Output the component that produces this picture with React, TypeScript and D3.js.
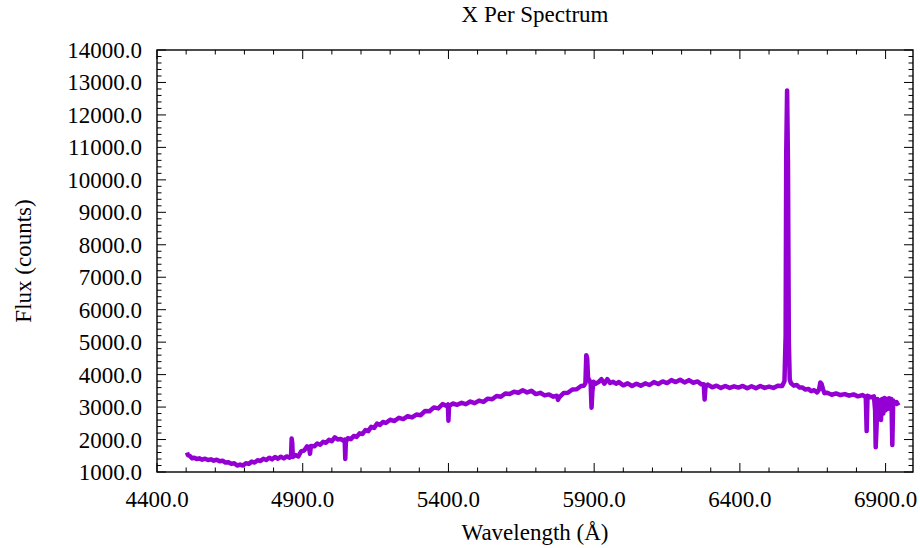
import React from "react";
import * as d3 from "d3";

// wavelength (Å) / flux (counts) pairs
const wavelength = [
  4503, 4506, 4512, 4520, 4528, 4536, 4545, 4555, 4565, 4575, 4585, 4595, 4605, 4615, 4625, 4635, 4645, 4655,
  4665, 4675, 4685, 4695, 4705, 4715, 4725, 4735, 4745, 4755, 4765, 4775, 4785, 4795, 4805, 4815, 4825, 4835,
  4845, 4855, 4860, 4862, 4864, 4866, 4875, 4885, 4895, 4905, 4915, 4922, 4925, 4928, 4940, 4950, 4960, 4970,
  4980, 4990, 5000, 5010, 5020, 5030, 5040, 5044, 5046, 5048, 5055, 5065, 5075, 5085, 5095, 5105, 5115, 5125,
  5135, 5145, 5155, 5165, 5175, 5185, 5200, 5215, 5230, 5245, 5260, 5275, 5290, 5305, 5320, 5335, 5350, 5365,
  5380, 5392, 5398, 5400, 5402, 5415, 5430, 5445, 5460, 5475, 5490, 5505, 5520, 5535, 5550, 5565, 5580, 5595,
  5610, 5625, 5640, 5655, 5670, 5685, 5700, 5715, 5730, 5745, 5760, 5772, 5776, 5780, 5795, 5810, 5825, 5840,
  5855, 5865, 5870, 5873, 5876, 5879, 5884, 5888, 5891, 5894, 5898, 5905, 5915, 5925, 5935, 5945, 5955, 5965,
  5975, 5985, 6000, 6015, 6030, 6045, 6060, 6075, 6090, 6105, 6120, 6135, 6150, 6165, 6180, 6195, 6210, 6225,
  6240, 6255, 6268, 6276, 6279, 6282, 6290, 6305, 6320, 6335, 6350, 6365, 6380, 6395, 6410, 6425, 6440, 6455,
  6470, 6485, 6500, 6515, 6530, 6545, 6553, 6557, 6559, 6562, 6565, 6568, 6571, 6575, 6585, 6595, 6605, 6615,
  6625, 6635, 6645, 6655, 6665, 6672, 6676, 6680, 6685, 6690, 6700, 6715, 6730, 6745, 6760, 6775, 6790, 6805,
  6820, 6832, 6835, 6838, 6850, 6860, 6864, 6866, 6869, 6872, 6876, 6880, 6884, 6888, 6892, 6896, 6900, 6904,
  6908, 6912, 6916, 6920, 6923, 6926, 6932, 6938, 6944,
];

const flux = [
  1600, 1520, 1500, 1420, 1440, 1400, 1420, 1380, 1410, 1370, 1390, 1350, 1380, 1330, 1350, 1290, 1300, 1250,
  1270, 1200, 1230, 1200, 1270, 1250, 1320, 1290, 1360, 1340, 1410, 1370, 1440, 1390, 1460, 1410, 1470, 1420,
  1480, 1440, 1500, 2030, 1900, 1460, 1520, 1480, 1640, 1660, 1790, 1740, 1560, 1800, 1790, 1880, 1840, 1930,
  1900, 1990, 1950, 2070, 2000, 2020, 1960, 2000, 1400, 1930, 2040, 2010, 2110, 2080, 2190, 2170, 2290, 2260,
  2390, 2360, 2490, 2450, 2540, 2510, 2610, 2570, 2670, 2630, 2720, 2680, 2770, 2750, 2880, 2870, 2990, 2960,
  3090, 3040, 3080, 2580, 3030, 3110, 3070, 3130, 3090, 3170, 3120, 3200, 3160, 3260, 3240, 3340, 3320, 3420,
  3400, 3470, 3440, 3520, 3450, 3500, 3400, 3440, 3360, 3390, 3320, 3350, 3220, 3300, 3430, 3440, 3540, 3550,
  3650, 3660, 3740, 4600, 4500, 3900, 3820, 3720, 2980, 3500, 3780, 3720, 3770, 3860, 3720, 3860, 3740, 3780,
  3720, 3770, 3670, 3730, 3650, 3720, 3660, 3730, 3680, 3770, 3710, 3790, 3740, 3830, 3770, 3840, 3760, 3830,
  3750, 3790, 3700, 3700, 3230, 3620, 3690, 3610, 3660, 3590, 3650, 3590, 3640, 3600, 3650, 3580, 3640, 3580,
  3650, 3590, 3630, 3590, 3660, 3650, 3800, 5200, 10800, 12750, 10500, 5000, 3850, 3740, 3660, 3680, 3600, 3600,
  3540, 3560, 3490, 3520, 3450, 3550, 3760, 3720, 3560, 3430, 3440, 3380, 3420, 3370, 3400, 3350, 3390, 3330,
  3370, 3310, 2260, 3350, 3300, 3330, 2900, 1760, 2400, 3250, 2700, 3200, 2600, 3250, 2800, 3280, 2900, 3250,
  2950, 3270, 3000, 3250, 1830, 3200, 3100, 3150, 3050,
];

const xTicks = [4400, 4900, 5400, 5900, 6400, 6900];
const yTicks = [1000, 2000, 3000, 4000, 5000, 6000, 7000, 8000, 9000, 10000, 11000, 12000, 13000, 14000];

const W = 920;
const H = 548;
const left = 157;
const right = 913;
const top = 50;
const bottom = 472;
const font = "'Liberation Serif', 'Times New Roman', serif";

export default function App() {
  const x = d3.scaleLinear().domain([4400, 6994]).range([left, right]);
  const y = d3.scaleLinear().domain([1000, 14000]).range([bottom, top]);

  const points = wavelength.map((w, i) => [w, flux[i]] as [number, number]);
  const line = d3
    .line<[number, number]>()
    .x((d) => x(d[0]))
    .y((d) => y(d[1]));

  // minor ticks every 100 Å and every 200 counts
  const xMinor = d3.range(4400, 7000, 100).filter((v) => !xTicks.includes(v));
  const yMinor = d3.range(1000, 14001, 200).filter((v) => !yTicks.includes(v));

  const major = 9;
  const minor = 4.5;

  return (
    <svg
      width={W}
      height={H}
      style={{ position: "absolute", left: 0, top: 0, background: "#fff" }}
      fontFamily={font}
    >
      <text x={(left + right) / 2} y={22} textAnchor="middle" fontSize={23}>
        X Per Spectrum
      </text>

      <path d={line(points) || ""} fill="none" stroke="#9400d3" strokeWidth={4.5} strokeLinejoin="round" />

      {/* ticks on all four sides */}
      <g stroke="#000" strokeWidth={1}>
        {xTicks.map((v) => (
          <g key={"xt" + v}>
            <line x1={x(v)} x2={x(v)} y1={bottom} y2={bottom - major} />
            <line x1={x(v)} x2={x(v)} y1={top} y2={top + major} />
          </g>
        ))}
        {xMinor.map((v) => (
          <g key={"xm" + v}>
            <line x1={x(v)} x2={x(v)} y1={bottom} y2={bottom - minor} />
            <line x1={x(v)} x2={x(v)} y1={top} y2={top + minor} />
          </g>
        ))}
        {yTicks.map((v) => (
          <g key={"yt" + v}>
            <line x1={left} x2={left + major} y1={y(v)} y2={y(v)} />
            <line x1={right} x2={right - major} y1={y(v)} y2={y(v)} />
          </g>
        ))}
        {yMinor.map((v) => (
          <g key={"ym" + v}>
            <line x1={left} x2={left + minor} y1={y(v)} y2={y(v)} />
            <line x1={right} x2={right - minor} y1={y(v)} y2={y(v)} />
          </g>
        ))}
      </g>

      <rect x={left} y={top} width={right - left} height={bottom - top} fill="none" stroke="#000" strokeWidth={1.4} />

      <g fontSize={23} fill="#000">
        {xTicks.map((v) => (
          <text key={"xl" + v} x={x(v)} y={bottom + 35} textAnchor="middle">
            {v.toFixed(1)}
          </text>
        ))}
        {yTicks.map((v) => (
          <text key={"yl" + v} x={left - 15} y={y(v) + 8} textAnchor="end">
            {v.toFixed(1)}
          </text>
        ))}
      </g>

      <text x={(left + right) / 2} y={540} textAnchor="middle" fontSize={23}>
        Wavelength (Å)
      </text>
      <text transform={`translate(31,${(top + bottom) / 2}) rotate(-90)`} textAnchor="middle" fontSize={23}>
        Flux (counts)
      </text>
    </svg>
  );
}
